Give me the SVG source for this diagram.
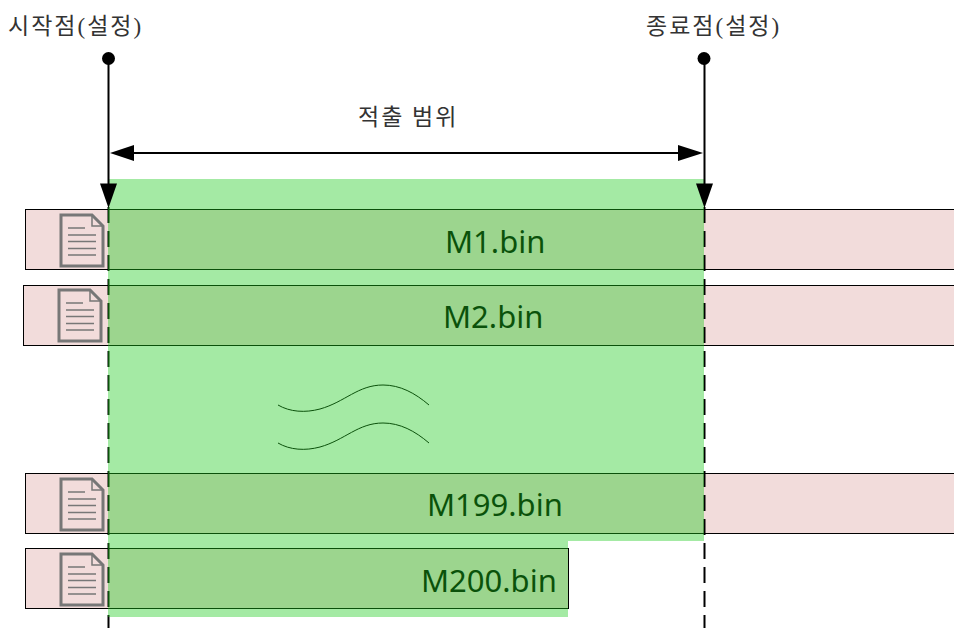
<svg xmlns="http://www.w3.org/2000/svg" width="954" height="628" viewBox="0 0 954 628">
<style>
.bar{fill:#f2dcdb;stroke:#000;stroke-width:1}
.file{font-family:"Noto Sans","Open Sans",sans-serif;font-size:31px;fill:#000}
.lab{font-family:"Liberation Serif","Noto Sans CJK KR",serif;font-size:23px;letter-spacing:2px;fill:#333}
.doc{fill:none;stroke:#777;stroke-width:3}
.txtl{fill:none;stroke:#777;stroke-width:1.500}
.dash{stroke:#000;stroke-width:2;stroke-dasharray:16 8;fill:none}
.solid{stroke:#000;stroke-width:2;fill:none}
.wave{stroke:#000;stroke-width:1;fill:none}
.head{fill:#000}
</style>
<defs>
<g id="icon">
<path class="doc" d="M61 215H92L103 226V266H61Z"/>
<path class="txtl" d="M92 215V226H103"/>
<path class="txtl" d="M68 228H85M68 235H96M68 241.500H96M68 248.500H96M68 255H96"/>
</g>
</defs>
<g id="node-m1"><rect class="bar" x="25.500" y="209.500" width="930" height="60"/><use href="#icon"/><text class="file" x="445" y="253">M1.bin</text></g>
<g id="node-m2"><rect class="bar" x="23.500" y="285.500" width="932" height="60"/><use href="#icon" x="-2" y="75"/><text class="file" x="443" y="328">M2.bin</text></g>
<g id="node-m199"><rect class="bar" x="25.500" y="473.500" width="930" height="60"/><use href="#icon" y="264"/><text class="file" x="427" y="516">M199.bin</text></g>
<g id="node-m200"><rect class="bar" x="25.500" y="548.500" width="543" height="60"/><use href="#icon" y="339"/><text class="file" x="421" y="592">M200.bin</text></g>
<g id="connectors">
<path class="dash" d="M108.500 207V628M704.500 207V628"/>
<path class="wave" d="M278 405C290 412 305 413 320 409C345 402 358 385 383 385C400 385 415 393 429 405"/>
<path class="wave" d="M278 443C290 450 305 451 320 447C345 440 358 423 383 423C400 423 415 431 429 443"/>
</g>
<path id="range" d="M108 179H704V541H568V617H108Z" fill="#1bca1b" fill-opacity="0.4"/>
<g id="arrows">
<circle class="head" cx="108.500" cy="58.500" r="6.500"/>
<circle class="head" cx="704" cy="58.500" r="6.500"/>
<path class="solid" d="M108.500 58V190M704.500 58V190M125 153H687"/>
<path class="head" d="M100 183.500H117L108.500 208Z"/>
<path class="head" d="M696 183.500H713L704.500 208Z"/>
<path class="head" d="M110 153L134 145V161Z"/>
<path class="head" d="M703 153L678 145V161Z"/>
</g>
<g id="labels">
<text class="lab" x="8" y="34">시작점(설정)</text>
<text class="lab" x="646" y="34">종료점(설정)</text>
<text class="lab" x="358" y="125">적출 범위</text>
</g>
</svg>
